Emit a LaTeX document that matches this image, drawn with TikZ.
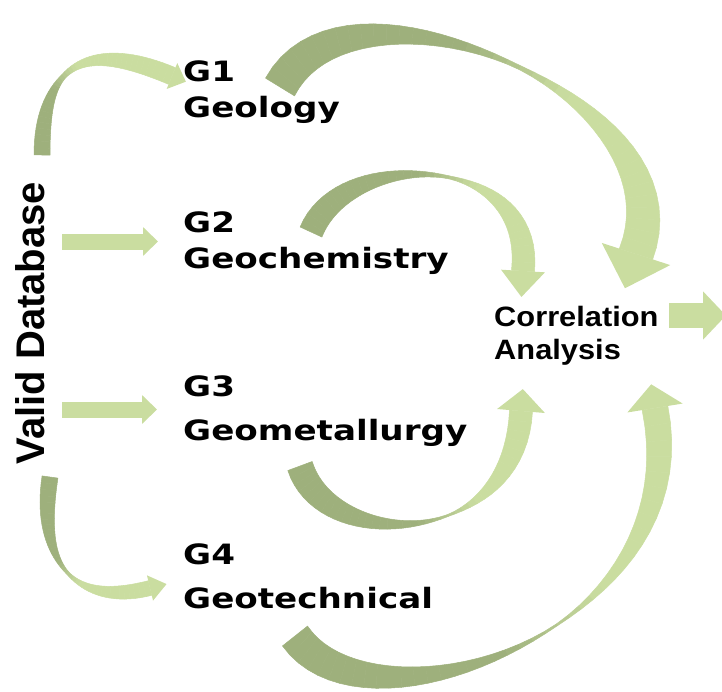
\documentclass[tikz,border=0pt]{standalone}
\usepackage{fontspec}
\setmainfont{Liberation Sans}
\newfontfamily\gfont{DejaVu Sans}
\usetikzlibrary{arrows.meta, calc}
\definecolor{ribdark}{RGB}{158,176,124}
\definecolor{riblight}{RGB}{202,221,160}
\tikzstyle{glabel} = [font=\gfont\bfseries\fontsize{28}{36}\selectfont, align=left, anchor=north west, inner sep=0pt, xscale=1.22]
\tikzstyle{calabel} = [font=\bfseries\fontsize{28}{33}\selectfont, align=left, anchor=north west, inner sep=0pt, xscale=1.1]
\tikzstyle{vlabel} = [font=\bfseries\fontsize{40}{48}\selectfont, rotate=90, inner sep=0pt]
\tikzstyle{flat} = [riblight, line width=16pt, -{Triangle[length=15pt, width=28pt]}]

% sample points along a ribbon centre line
\newcommand*{\ribpath}[2]{%
  \foreach \k in {0,...,40} {%
    \pgfmathsetmacro{\t}{\k/40}%
    \path #2 coordinate[pos=\t] (#1-\k);%
  }}
% half width at a time: macro, time, tail width, pinch width, end width, pinch time
\newcommand*{\ribhalf}[6]{%
  \ifdim #2pt<#6pt
    \pgfmathsetmacro{#1}{0.5*(#4+(#3-#4)*sin(90*(#6-#2)/#6)^1.5)}%
  \else
    \pgfmathsetmacro{#1}{0.5*(#4+(#5-#4)*sin(90*(#2-#6)/(1-#6))^1.5)}%
  \fi}
% name, tail width, pinch width, end width, pinch time, head half width, head length
\newcommand*{\ribbon}[7]{%
  \foreach \i in {0,...,40} {%
    \pgfmathsetmacro{\ta}{\i/40}%
    \ribhalf{\ha}{\ta}{#2}{#3}{#4}{#5}%
    \ifnum\i<40
      \pgfmathtruncatemacro{\k}{\i+1}%
      \coordinate (#1-l\i) at ($(#1-\i)!\ha pt!90:(#1-\k)$);%
      \coordinate (#1-r\i) at ($(#1-\i)!\ha pt!-90:(#1-\k)$);%
    \else
      \coordinate (#1-l\i) at ($(#1-\i)!\ha pt!-90:(#1-39)$);%
      \coordinate (#1-r\i) at ($(#1-\i)!\ha pt!90:(#1-39)$);%
    \fi
  }%
  \foreach \i in {1,...,40} {%
    \pgfmathtruncatemacro{\j}{\i-1}%
    \pgfmathsetmacro{\mix}{100*min(1,max(0,((\i-0.5)/40-#5+0.1)/0.2))}%
    \colorlet{ribc}{riblight!\mix!ribdark}%
    \filldraw[ribc, line width=0.5pt, line join=round]
      (#1-l\j) -- (#1-l\i) -- (#1-r\i) -- (#1-r\j) -- cycle;
  }%
  \fill[riblight] ($(#1-40)!#6pt!90:(#1-39)$) -- ($(#1-40)!#7pt!180:(#1-39)$)
    -- ($(#1-40)!#6pt!-90:(#1-39)$) -- cycle;
}

\begin{document}
\begin{tikzpicture}[x=1pt, y=-1pt]
    \useasboundingbox (0,0) rectangle (722,691);

    % Ribbons into the correlation analysis.
    \ribpath{ra}{(280,87) .. controls (350,-45) and (697,96) .. (636,254)}
    \ribbon{ra}{34}{4}{35}{0.52}{36}{36}
    \ribpath{rb}{(311,232) .. controls (345,148) and (535,151) .. (523,271)}
    \ribbon{rb}{24}{3}{23}{0.55}{22}{26}
    \ribpath{rc}{(300,466) .. controls (327,551.5) and (514,551) .. (521,411)}
    \ribbon{rc}{26}{2}{23}{0.6}{24}{22}
    \ribpath{rd}{(295,636) .. controls (369,742.6) and (700,633) .. (655,408)}
    \ribbon{rd}{32}{2}{26}{0.57}{28}{24}

    % Ribbons out of the database.
    \ribpath{rt}{(42,155) .. controls (42,60) and (89,41) .. (172,76)}
    \ribbon{rt}{16}{5}{18}{0.4}{14}{15}
    \ribpath{rl}{(50,477) .. controls (36.5,566) and (77,606.75) .. (150,588)}
    \ribbon{rl}{16}{3}{15}{0.5}{13}{17}

    % Labels.
    \node (vd) [vlabel] at (30,323) {Valid Database};
    \node (g1) [glabel] at (183,61) {G1\\Geology};
    \node (g2) [glabel] at (183,212) {G2\\Geochemistry};
    \node (g3) [glabel] at (183,376) {G3\\[8pt]Geometallurgy};
    \node (g4) [glabel] at (183,544) {G4\\[8pt]Geotechnical};
    \node (ca) [calabel] at (494,306) {Correlation\\Analysis};

    % Straight arrows.
    \coordinate (vd2) at (62,241.5);
    \coordinate (in2) at (158,241.5);
    \coordinate (vd3) at (62,409.5);
    \coordinate (in3) at (157,409.5);
    \coordinate (outa) at (669,315.5);
    \coordinate (outb) at (726,315.5);
    \draw [flat] (vd2) -- (in2);
    \draw [flat] (vd3) -- (in3);
    \draw [flat, line width=25pt, -{Triangle[length=23pt, width=47pt]}] (outa) -- (outb);
\end{tikzpicture}
\end{document}
